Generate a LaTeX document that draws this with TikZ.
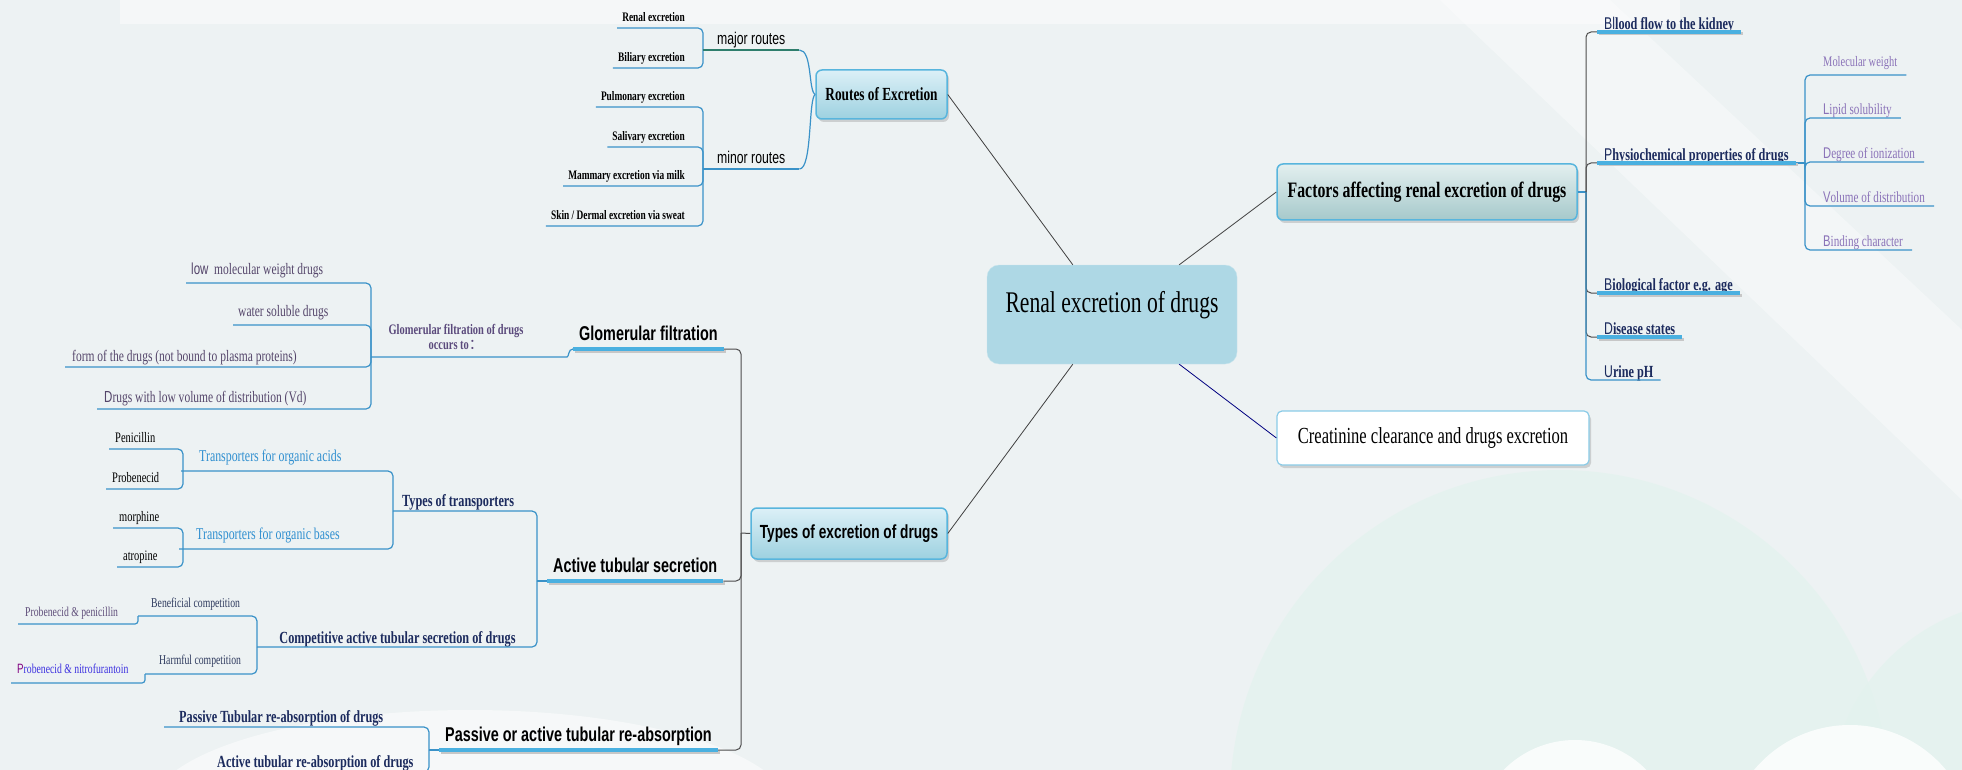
\documentclass[tikz,border=0pt]{standalone}
\usepackage{fontspec}
\setmainfont[FakeStretch=0.72]{Liberation Serif}
\setsansfont[FakeStretch=0.72]{Liberation Sans}
\newfontfamily\cjk{Noto Sans CJK SC}
\usetikzlibrary{shadows}

\definecolor{bgcol}{HTML}{EDF2F3}
\definecolor{mint}{HTML}{E3F2EE}
\definecolor{hubblue}{HTML}{AED8E5}
\definecolor{topictop}{HTML}{DCF0F7}
\definecolor{topicbot}{HTML}{9DD1E0}
\definecolor{factop}{HTML}{E3EFEF}
\definecolor{facbot}{HTML}{A6C9CB}
\definecolor{navy}{HTML}{1C2B5E}
\definecolor{linkblue}{HTML}{3A92C8}
\definecolor{barblue}{HTML}{4AB0E0}
\definecolor{lilac}{HTML}{8A72B8}
\definecolor{plum}{HTML}{54456A}
\definecolor{plumdark}{HTML}{5B4A7C}
\definecolor{acidblue}{HTML}{2F8FD0}
\definecolor{slate}{HTML}{2E3A5E}
\definecolor{boxedge}{HTML}{58B5DD}
\definecolor{routeteal}{HTML}{2E7E6C}
\definecolor{nitroblue}{HTML}{3B2FE0}

\newcommand{\firstl}[1]{{\sffamily\mdseries #1}}
\newcommand{\fsz}[1]{\fontsize{#1}{#1}\selectfont}

\tikzset{
	link/.style={draw=linkblue, line width=1.2pt, rounded corners=5pt},
	glink/.style={draw=black!70, line width=1pt, rounded corners=5pt},
	spoke/.style={draw=black!75, line width=0.8pt},
	bar/.style={draw=barblue, line width=4pt},
	barshade/.style={draw=black!22, line width=3pt},
	leaf/.style={anchor=south west, inner xsep=5pt, inner ysep=6pt, text depth=0pt},
	rleaf/.style={leaf, anchor=south east, inner ysep=6.5pt, font=\bfseries\fsz{13}},
	gleaf/.style={leaf, text=plum, font=\fsz{16}},
	fleaf/.style={leaf, inner xsep=7pt, inner ysep=2.5pt, text=navy, font=\bfseries\fsz{17}},
	pleaf/.style={leaf, inner xsep=9pt, inner ysep=3pt, text=lilac, font=\fsz{15.5}},
	nleaf/.style={leaf, inner ysep=4pt, text=navy, font=\bfseries\fsz{17}},
	sbar/.style={leaf, inner xsep=6pt, inner ysep=8pt, font=\sffamily\bfseries\fsz{20}},
	drug/.style={leaf, inner xsep=6pt, text=black, font=\fsz{14.5}},
	comp/.style={leaf, text=slate, font=\fsz{13.5}},
	hub/.style={fill=hubblue, draw=hubblue!70!white, rounded corners=12pt, minimum width=250pt, minimum height=99pt, font=\fsz{30}, text height=21pt, text depth=25pt},
	topic/.style={draw=boxedge, line width=1.5pt, rounded corners=6pt, top color=topictop, bottom color=topicbot, drop shadow={shadow xshift=2pt, shadow yshift=-3pt, opacity=0.3}},
}

\begin{document}
\begin{tikzpicture}[x=1pt, y=-1pt]
	\useasboundingbox (0,0) rectangle (1962,770);
	\begin{scope}
		\clip (0,0) rectangle (1962,770);
		\fill[bgcol] (0,0) rectangle (1962,770);
		\fill[white, opacity=0.45] (120,0) rectangle (1680,24);
		\fill[white, opacity=0.35] (1440,0) -- (1610,0) -- (1962,330) -- (1962,500) -- cycle;
		\fill[mint, opacity=0.7] (1560,800) circle (330);
		\fill[mint, opacity=0.7] (2030,800) circle (200);
		\fill[white, opacity=0.8] (1575,840) circle (100);
		\fill[white, opacity=0.8] (1850,850) circle (125);
		\fill[white, opacity=0.5] (470,810) ellipse (320 and 100);
	\end{scope}

	% centre and first level
	\node[hub] (renalx) at (1112,314.5) {Renal excretion of drugs};
	\node[topic, minimum width=131pt, minimum height=49pt, font=\bfseries\fsz{18.5}] (routes) at (881.5,94.5) {Routes of Excretion};
	\node[topic, top color=factop, bottom color=facbot, minimum width=300pt, minimum height=56pt, font=\bfseries\fsz{22}] (factors) at (1427,192) {Factors affecting renal excretion of drugs};
	\node[topic, minimum width=196pt, minimum height=51pt, font=\sffamily\bfseries\fsz{19}] (types) at (849,533.5) {Types of excretion of drugs};
	\node[fill=white, draw=boxedge!70, line width=1.2pt, rounded corners=5pt, minimum width=312pt, minimum height=54pt, font=\fsz{23}, drop shadow={shadow xshift=2pt, shadow yshift=-3pt, opacity=0.3}] (creat) at (1433,438) {Creatinine clearance and drugs excretion};

	\draw[spoke] ([xshift=86pt]renalx.north west) -- (routes.east);
	\draw[spoke] ([xshift=-58pt]renalx.north east) -- (factors.west);
	\draw[spoke] ([xshift=86pt]renalx.south west) -- (types.east);
	\draw[spoke, draw=blue!50!black] ([xshift=-58pt]renalx.south east) -- (creat.west);

	% routes of excretion
	\coordinate (majJ) at (703,50);
	\coordinate (minJ) at (703,169);
	\node[rleaf] (renal) at (690,28) {Renal excretion};
	\node[rleaf] (biliary) at (690,68) {Biliary excretion};
	\node[rleaf] (pulmonary) at (690,107) {Pulmonary excretion};
	\node[rleaf] (salivary) at (690,147) {Salivary excretion};
	\node[rleaf] (mammary) at (690,186) {Mammary excretion via milk};
	\node[rleaf] (skin) at (690,226) {Skin / Dermal excretion via sweat};
	\node[leaf, inner xsep=14pt, inner ysep=5pt, font=\sffamily\fsz{17}] (major) at (majJ) {major routes};
	\node[leaf, inner xsep=14pt, inner ysep=5pt, font=\sffamily\fsz{17}] (minor) at (minJ) {minor routes};
	\foreach \n in {renal,biliary}{
		\draw[link] (\n.south west) -| (majJ);
	}
	\foreach \n in {pulmonary,salivary,mammary,skin}{
		\draw[link] (\n.south west) -| (minJ);
	}
	\draw[link, draw=routeteal] (major.south west) -- (major.south east);
	\draw[link] (minor.south west) -- (minor.south east);
	\draw[link] (major.south east) .. controls +(13,0) and +(-7,-3) .. (routes.west);
	\draw[link] (minor.south east) .. controls +(13,0) and +(-7,3) .. (routes.west);

	% factors
	\coordinate (fJ) at (1586,192);
	\coordinate (pJ) at (1805,163);
	\node[fleaf] (blood) at (1597,32) {\firstl{Bl}lood flow to the kidney};
	\node[fleaf] (physio) at (1597,163) {\firstl{P}hysiochemical properties of drugs};
	\node[fleaf] (bio) at (1597,293) {\firstl{B}iological factor e.g. age};
	\node[fleaf] (disease) at (1597,337) {\firstl{D}isease states};
	\node[fleaf] (urine) at (1597,380) {\firstl{U}rine pH};
	\node[pleaf, inner ysep=8pt, font=\fsz{14.5}] (molw) at (1814,75) {Molecular weight};
	\node[pleaf] (lipid) at (1814,118) {\firstl{L}ipid solubility};
	\node[pleaf] (degree) at (1814,162) {\firstl{D}egree of ionization};
	\node[pleaf] (volume) at (1814,206) {\firstl{V}olume of distribution};
	\node[pleaf] (binding) at (1814,250) {\firstl{B}inding character};
	\draw[link] (factors.east) -- (fJ);
	\foreach \n in {blood,physio,bio,disease}{
		\draw[glink] (fJ) |- (\n.south west);
	}
	\draw[link] (fJ) |- (urine.south east);
	\draw[link] (physio.south east) -- (pJ);
	\foreach \n in {molw,lipid,degree,volume,binding}{
		\draw[link] (pJ) |- (\n.south east);
	}

	% types of excretion
	\coordinate (tJ) at (741,533);
	\coordinate (gJ) at (371,357);
	\coordinate (aJ) at (537,581);
	\coordinate (ttJ) at (393,511);
	\coordinate (acJ) at (183,471);
	\coordinate (baJ) at (183,549);
	\coordinate (cJ) at (257,647);
	\coordinate (psJ) at (429,750);
	\node[sbar] (glom) at (573,349) {Glomerular filtration};
	\node[sbar] (active) at (547,581) {Active tubular secretion};
	\node[sbar] (passive) at (439,750) {Passive or active tubular re-absorption};
	\draw[glink] (types.west) -- (tJ);
	\foreach \n in {glom,active,passive}{
		\draw[glink] (\n.south east) -| (tJ);
	}

	\node[align=center, text=plumdark, font=\bfseries\fsz{14.5}] (occurs) at (456,337) {Glomerular filtration of drugs\\occurs to{\mdseries\cjk ：}};
	\node[gleaf, inner ysep=8pt] (lowmw) at (186,283) {\firstl{low}~ molecular weight drugs};
	\node[gleaf, inner ysep=8pt] (watersol) at (233,325) {water soluble drugs};
	\node[gleaf, inner xsep=7pt, inner ysep=5pt] (freeform) at (65,367) {form of the drugs (not bound to plasma proteins)};
	\node[gleaf, inner xsep=7pt] (lowvd) at (97,409) {\firstl{D}rugs with low volume of distribution (Vd)};
	\foreach \n in {lowmw,watersol,freeform,lowvd}{
		\draw[link] (\n.south west) -| (gJ);
	}
	\draw[link] (gJ) -- ++(191,0) .. controls +(7,0) and +(-5,0) .. (glom.south west);

	\node[nleaf, inner xsep=9pt] (ttrans) at (ttJ) {Types of transporters};
	\node[nleaf, anchor=south, inner xsep=0pt, inner ysep=3pt] (compet) at (397.5,647) {Competitive active tubular secretion of drugs};
	\draw[link] (aJ) -- (active.south west);
	\draw[link] (ttrans.south west) -| (aJ);
	\draw[link] (cJ) -- (compet.south) -| (aJ);

	\node[leaf, inner xsep=13pt, inner ysep=9pt, text=acidblue, font=\fsz{16.5}] (acids) at (186,471) {Transporters for organic acids};
	\node[leaf, inner xsep=12pt, inner ysep=9pt, text=acidblue, font=\fsz{16.5}] (bases) at (184,549) {Transporters for organic bases};
	\draw[link] (acJ) -- (acids.south west) -| (ttJ);
	\draw[link] (baJ) -- (bases.south west) -| (ttJ);
	\node[drug] (penic) at (109,449) {Penicillin};
	\node[drug] (probe) at (106,489) {Probenecid};
	\node[drug] (morph) at (113,528) {morphine};
	\node[drug] (atrop) at (117,567) {atropine};
	\foreach \n in {penic,probe}{
		\draw[link] (\n.south west) -| (acJ);
	}
	\foreach \n in {morph,atrop}{
		\draw[link] (\n.south west) -| (baJ);
	}

	\node[comp, inner xsep=13pt, inner ysep=8pt] (benef) at (138,616) {Beneficial competition};
	\node[comp, inner xsep=14pt, inner ysep=9pt] (harm) at (145,674) {Harmful competition};
	\node[comp, inner xsep=7pt, inner ysep=7pt, text=plum!80!lilac] (probpen) at (18,624) {Probenecid \& penicillin};
	\node[comp, inner xsep=6pt, inner ysep=9pt, text=nitroblue] (probnit) at (11,683) {{\color{violet}\firstl{P}}robenecid \& nitrofurantoin};
	\foreach \n in {benef,harm}{
		\draw[link] (\n.south west) -| (cJ);
	}
	\draw[link, rounded corners=3pt] (probpen.south west) -| (benef.south west);
	\draw[link, rounded corners=3pt] (probnit.south west) -| (harm.south west);

	\node[nleaf, inner xsep=15pt] (ptub) at (164,727) {Passive Tubular re-absorption of drugs};
	\node[nleaf, inner xsep=12pt] (atub) at (205,772) {Active tubular re-absorption of drugs};
	\draw[link] (psJ) -- (passive.south west);
	\foreach \n in {ptub,atub}{
		\draw[link] (\n.south west) -| (psJ);
	}

	% underline bars
	\foreach \n in {blood,physio,bio,disease,glom,active,passive}{
		\draw[barshade] ([shift={(2pt,-2pt)}]\n.south west) -- ([shift={(2pt,-2pt)}]\n.south east);
		\draw[bar] (\n.south west) -- (\n.south east);
	}
%	\node at (1112,40) {};
\end{tikzpicture}
\end{document}
